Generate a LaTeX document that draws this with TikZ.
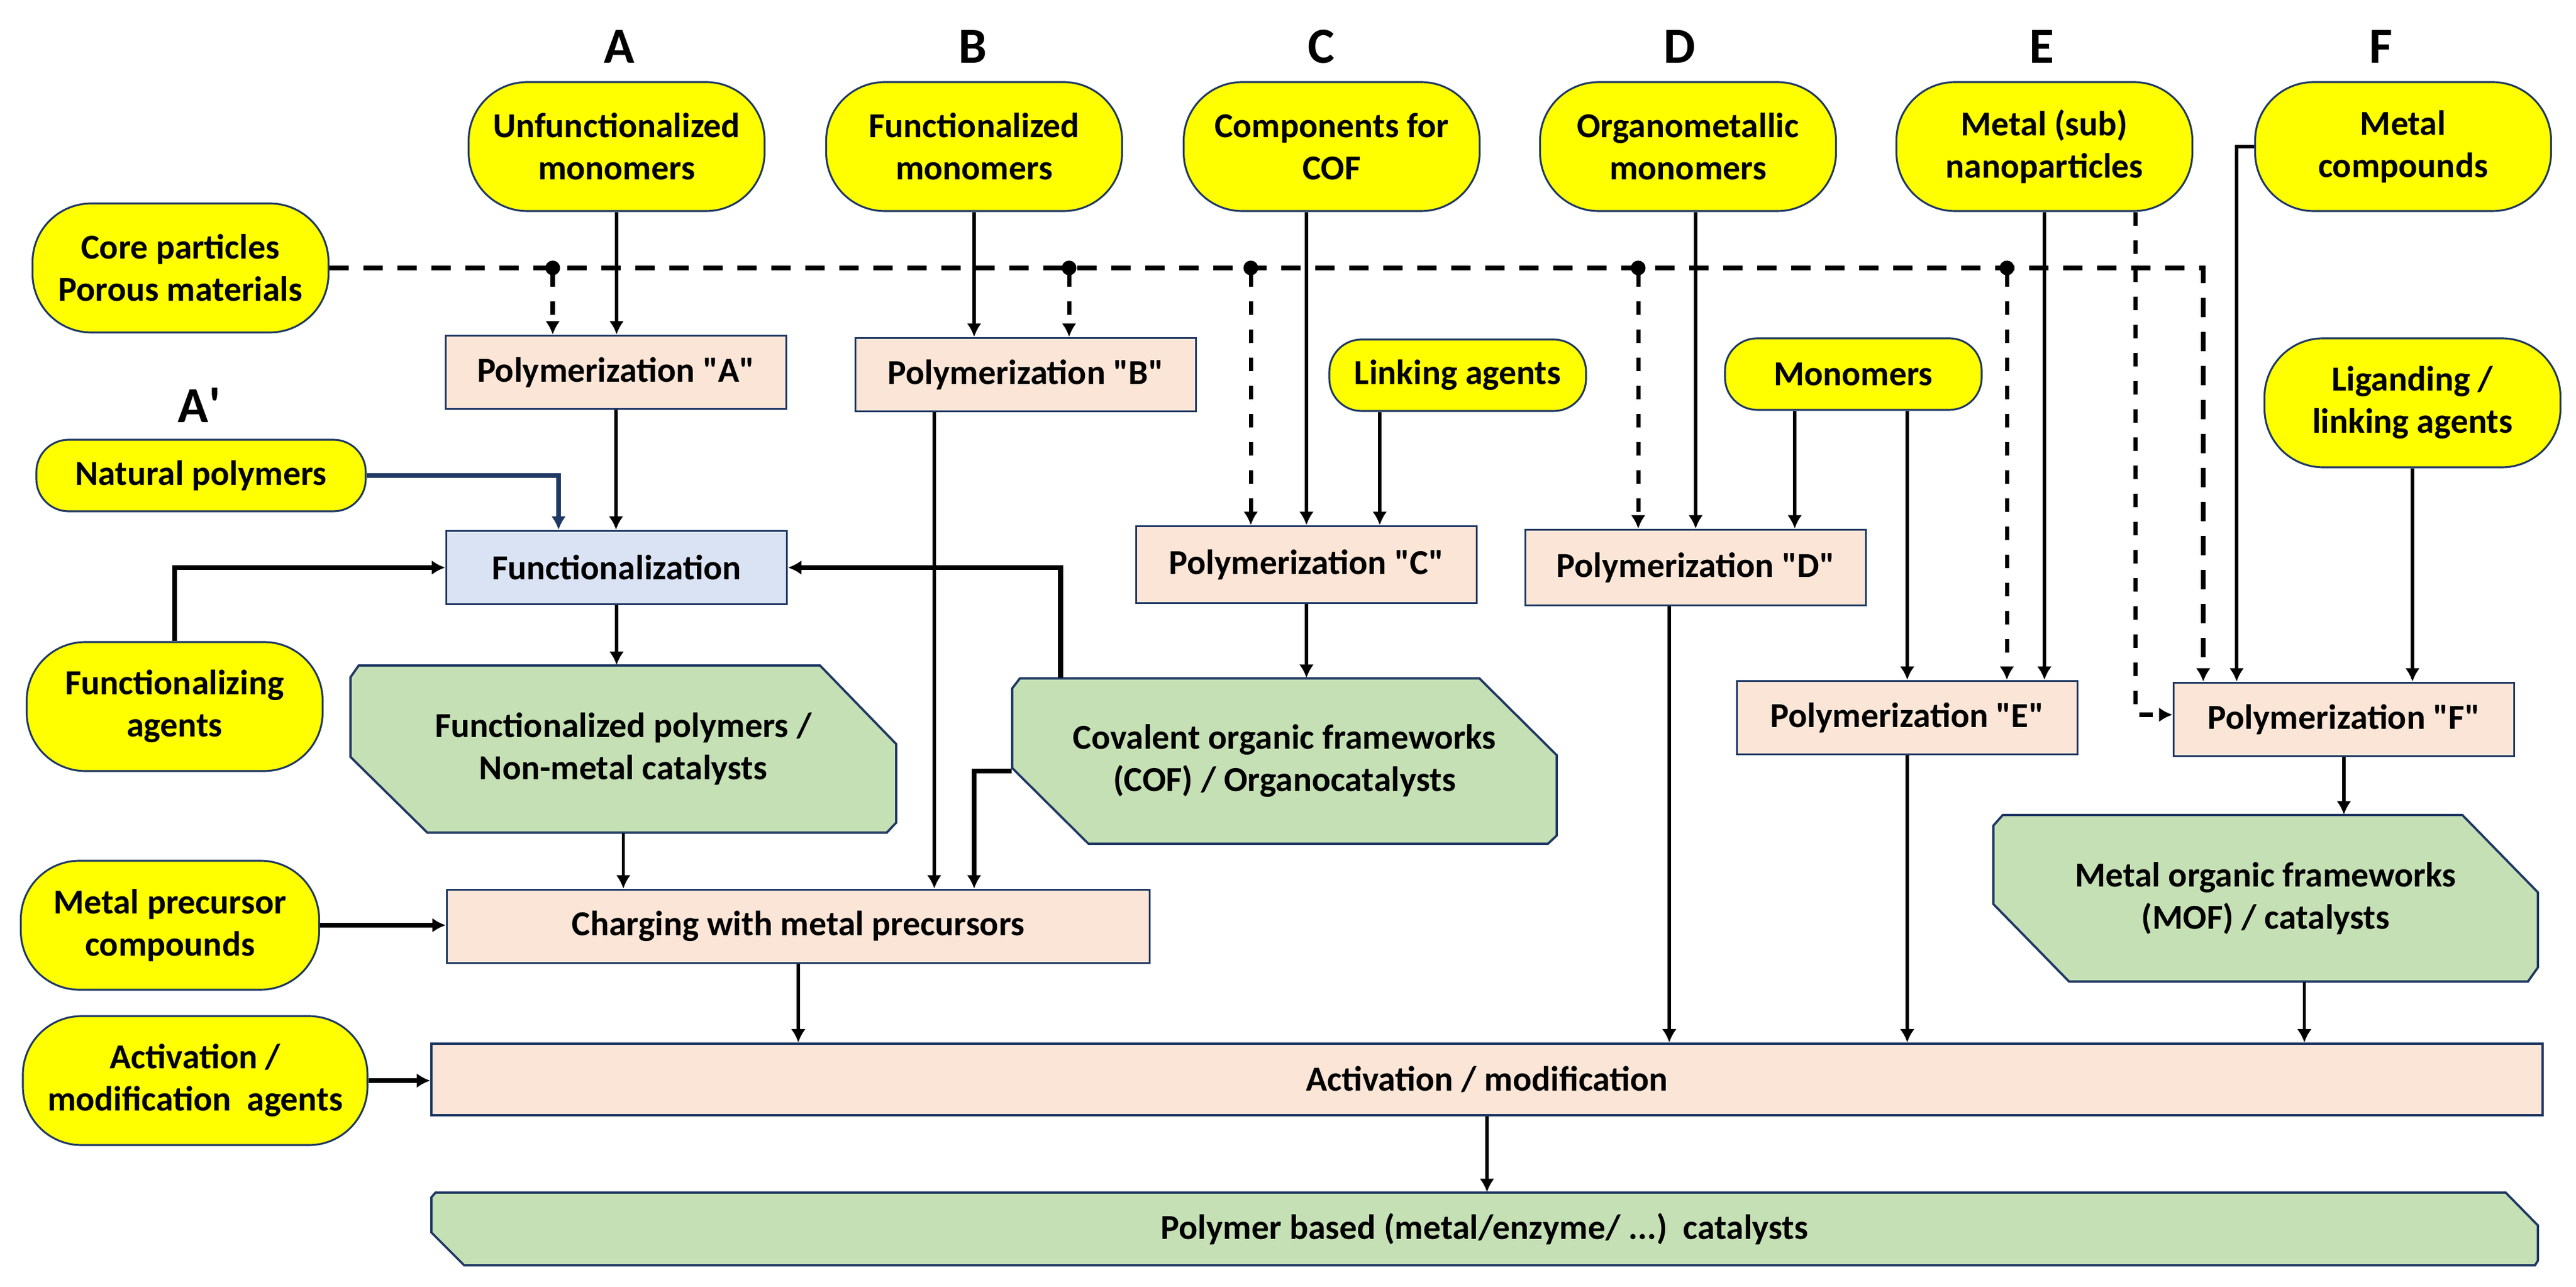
\documentclass[tikz,border=0pt]{standalone}
\usepackage{fontspec}
\setmainfont{Carlito}
\usetikzlibrary{arrows.meta}
\definecolor{frame}{RGB}{31,56,100}
\definecolor{feedyellow}{RGB}{255,255,0}
\definecolor{procpeach}{RGB}{251,229,214}
\definecolor{funcblue}{RGB}{218,227,243}
\definecolor{prodgreen}{RGB}{197,224,180}
\newcommand{\qmark}[1]{\textquotedbl#1\textquotedbl}
\tikzset{every node/.style = {font=\fontsize{17}{20.5}\selectfont\bfseries, align=center}}
\tikzset{column/.style = {font=\fontsize{24.5}{29}\selectfont\bfseries}}
\tikzset{feed/.style = {shape=rectangle, rounded corners=1cm, draw=frame, line width=0.9pt, fill=feedyellow, minimum width=5.05cm, minimum height=2.2cm, inner sep=0pt}}
\tikzset{feedsmall/.style = {feed, rounded corners=0.55cm, minimum height=1.22cm}}
\tikzset{proc/.style = {shape=rectangle, draw=frame, line width=1.1pt, fill=procpeach, minimum width=5.81cm, minimum height=1.25cm, inner sep=0pt}}
\tikzset{prod/.style = {shape=rectangle, inner sep=0pt}}
\tikzset{prodframe/.style = {draw=frame, line width=1.1pt, fill=prodgreen}}
\tikzset{edge/.style = {-{Latex[length=0.23cm,width=0.25cm]}, line width=1.6pt}}
\tikzset{thickedge/.style = {edge, line width=2.5pt}}
\tikzset{natline/.style = {edge, draw=frame, line width=2pt}}
\tikzset{coreline/.style = {edge, line width=2.5pt, dash pattern=on 0.33cm off 0.25cm}}
\tikzset{dashedge/.style = {edge, line width=2pt, dash pattern=on 0.23cm off 0.25cm}}
\tikzset{branch/.style = {dashedge, {Circle[length=0.25cm]}-{Latex[length=0.23cm,width=0.25cm]}, shorten <=-0.125cm}}

\begin{document}
\begin{tikzpicture}
                \useasboundingbox (0,0) rectangle (43.95,-21.95);
                % column letters
                \node[column] (colA) at (10.57,-0.80) {A};
                \node[column] (colB) at (16.60,-0.80) {B};
                \node[column] (colC) at (22.54,-0.80) {C};
                \node[column] (colD) at (28.66,-0.80) {D};
                \node[column] (colE) at (34.83,-0.80) {E};
                \node[column] (colF) at (40.62,-0.80) {F};
                \node[column] (colA2) at (3.40,-6.91) {A\textquotesingle};
                % green products, outlines first
                \draw[prodframe] (6.12,-11.35) -- (13.99,-11.35) -- (15.29,-12.69) -- (15.29,-14.03) -- (15.13,-14.20) -- (7.29,-14.20) -- (5.98,-12.91) -- (5.98,-11.55) -- cycle;
                \draw[prodframe] (17.40,-11.57) -- (25.24,-11.57) -- (26.56,-12.88) -- (26.56,-14.25) -- (26.41,-14.39) -- (18.57,-14.39) -- (17.27,-13.10) -- (17.27,-11.74) -- cycle;
                \draw[prodframe] (34.17,-13.90) -- (42.01,-13.90) -- (43.30,-15.22) -- (43.30,-16.50) -- (43.13,-16.74) -- (35.30,-16.74) -- (34.01,-15.42) -- (34.01,-14.08) -- cycle;
                \draw[prodframe] (7.43,-20.34) -- (42.75,-20.34) -- (43.30,-20.90) -- (43.30,-21.50) -- (43.25,-21.58) -- (7.92,-21.58) -- (7.36,-21.02) -- (7.36,-20.42) -- cycle;
                \node[prod, minimum width=9.31cm, minimum height=2.85cm] (fpol) at (10.635,-12.775) {Functionalized polymers /\\Non-metal catalysts};
                \node[prod, minimum width=9.29cm, minimum height=2.82cm] (cof) at (21.915,-12.98) {Covalent organic frameworks\\(COF) / Organocatalysts};
                \node[prod, minimum width=9.29cm, minimum height=2.84cm] (mof) at (38.655,-15.32) {Metal organic frameworks\\(MOF) / catalysts};
                \node[prod, minimum width=35.94cm, minimum height=1.24cm] (final) at (25.33,-20.96) {Polymer based (metal/enzyme/ ...)\ \ catalysts};
                % feeds
                \node[feed] (core) at (3.08,-4.57) {Core particles\\Porous materials};
                \node[feed] (unf) at (10.52,-2.50) {Unfunctionalized\\monomers};
                \node[feed] (fmon) at (16.62,-2.50) {Functionalized\\monomers};
                \node[feed] (comp) at (22.72,-2.50) {Components for\\COF};
                \node[feed] (orgm) at (28.80,-2.50) {Organometallic\\monomers};
                \node[feed] (nano) at (34.88,-2.50) {Metal (sub)\\nanoparticles};
                \node[feed] (mcomp) at (41.00,-2.50) {Metal\\compounds};
                \node[feedsmall, minimum width=5.62cm] (natp) at (3.43,-8.11) {Natural polymers};
                \node[feedsmall, minimum width=4.38cm] (link) at (24.87,-6.40) {Linking agents};
                \node[feedsmall, minimum width=4.38cm] (mono) at (31.62,-6.38) {Monomers};
                \node[feed] (lig) at (41.16,-6.87) {Liganding /\\linking agents};
                \node[feed] (fag) at (2.98,-12.05) {Functionalizing\\agents};
                \node[feed, minimum width=5.09cm] (mprec) at (2.90,-15.78) {Metal precursor\\compounds};
                \node[feed, minimum width=5.88cm] (actag) at (3.33,-18.43) {Activation /\\modification\ \ agents};
                % processes
                \node[proc] (polA) at (10.51,-6.35) {Polymerization \qmark{A}};
                \node[proc] (polB) at (17.50,-6.39) {Polymerization \qmark{B}};
                \node[proc, minimum height=1.31cm] (polC) at (22.29,-9.63) {Polymerization \qmark{C}};
                \node[proc, minimum height=1.29cm] (polD) at (28.93,-9.68) {Polymerization \qmark{D}};
                \node[proc] (polE) at (32.54,-12.24) {Polymerization \qmark{E}};
                \node[proc] (polF) at (39.99,-12.27) {Polymerization \qmark{F}};
                \node[proc, fill=funcblue] (func) at (10.52,-9.68) {Functionalization};
                \node[proc, minimum width=11.99cm] (charge) at (13.62,-15.80) {Charging with metal precursors};
                \node[proc, minimum width=36.02cm, minimum height=1.22cm] (activ) at (25.37,-18.41) {Activation / modification};
                % core particles line and its branches
                \draw[coreline] (core.east) -| ([xshift=-2.40cm]polF.north);
                \coordinate (jA) at (9.43,-4.57);
                \coordinate (jB) at (18.24,-4.57);
                \coordinate (jC) at (21.34,-4.57);
                \coordinate (jD) at (27.95,-4.57);
                \coordinate (jE) at (34.24,-4.57);
                \draw[branch] (jA) -- (jA |- polA.north);
                \draw[branch] (jB) -- (jB |- polB.north);
                \draw[branch] (jC) -- (jC |- polC.north);
                \draw[branch] (jD) -- (jD |- polD.north);
                \draw[branch] (jE) -- (jE |- polE.north);
                % monomers into polymerizations
                \draw[edge] (unf.south) -- (unf.south |- polA.north);
                \draw[edge] (fmon.south) -- (fmon.south |- polB.north);
                \draw[edge] (comp.south -| polC.north) -- (polC.north);
                \draw[edge] ([xshift=-1.33cm]link.south) -- ([xshift=-1.33cm]link.south |- polC.north);
                \draw[edge] (orgm.south -| polD.north) -- (polD.north);
                \draw[edge] ([xshift=-1cm]mono.south) -- ([xshift=-1cm]mono.south |- polD.north);
                \draw[edge] (mono.south -| polE.north) -- (polE.north);
                \draw[edge] (nano.south) -- (nano.south |- polE.north);
                \draw[dashedge] ([xshift=1.55cm]nano.south) |- ([yshift=0.08cm]polF.west);
                \draw[edge] (mcomp.west) -| ([xshift=-1.83cm]polF.north);
                \draw[edge] (lig.south) -- (lig.south |- polF.north);
                % functionalization
                \draw[edge] (polA.south) -- (polA.south |- func.north);
                \draw[natline] (natp.east) -| ([xshift=-0.99cm]func.north);
                \draw[thickedge] (fag.north) |- (func.west);
                \draw[thickedge] ([xshift=-3.82cm]cof.north) |- (func.east);
                \draw[edge] (func.south) -- (func.south |- fpol.north);
                \draw[edge] (polC.south) -- (polC.south |- cof.north);
                \draw[edge] (polF.south) -- (polF.south |- mof.north);
                % charging
                \draw[edge] (fpol.south) -- (fpol.south |- charge.north);
                \draw[edge] ([xshift=-1.56cm]polB.south) -- ([xshift=-1.56cm]polB.south |- charge.north);
                \draw[thickedge] ([yshift=-0.17cm]cof.west) -| ([xshift=3.0cm]charge.north);
                \draw[thickedge] (mprec.east) -- (mprec.east -| charge.west);
                % activation
                \draw[edge] (charge.south) -- (charge.south |- activ.north);
                \draw[edge] ([xshift=-0.45cm]polD.south) -- ([xshift=-0.45cm]polD.south |- activ.north);
                \draw[edge] (polE.south) -- (polE.south |- activ.north);
                \draw[edge] ([xshift=0.66cm]mof.south) -- ([xshift=0.66cm]mof.south |- activ.north);
                \draw[thickedge] (actag.east) -- (actag.east -| activ.west);
                \draw[edge] (activ.south) -- (activ.south |- final.north);
            \end{tikzpicture}
\end{document}
